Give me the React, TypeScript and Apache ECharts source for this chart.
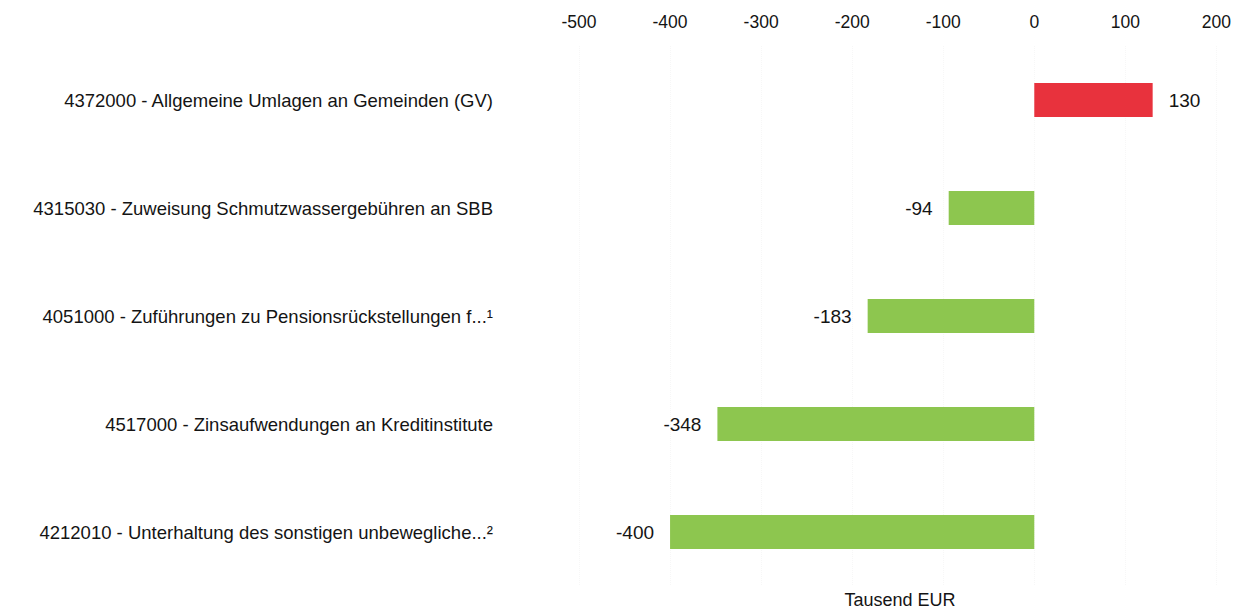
import React, { useEffect, useRef } from "react";
import * as echarts from "echarts";

const categories = [
  "4372000 - Allgemeine Umlagen an Gemeinden (GV)",
  "4315030 - Zuweisung Schmutzwassergebühren an SBB",
  "4051000 - Zuführungen zu Pensionsrückstellungen f...¹",
  "4517000 - Zinsaufwendungen an Kreditinstitute",
  "4212010 - Unterhaltung des sonstigen unbewegliche...²",
];
const values = [130, -94, -183, -348, -400];
const axisMin = -500;
const axisMax = 200;
const axisInterval = 100;
const axisName = "Tausend EUR";

const RED = "#e8323d";
const GREEN = "#8dc64f";
const FONT = "'Liberation Sans', Arial, Helvetica, sans-serif";
const TEXT = "#141414";

export default function App() {
  const ref = useRef<HTMLDivElement>(null);
  useEffect(() => {
    document.body.style.margin = "0";
    const chart = echarts.init(ref.current!, undefined, { renderer: "svg" });
    chart.setOption({
      animation: false,
      backgroundColor: "#ffffff",
      textStyle: { fontFamily: FONT },
      grid: { left: 579, right: 13, top: 46, bottom: 24, containLabel: false },
      xAxis: {
        type: "value",
        position: "top",
        min: axisMin,
        max: axisMax,
        interval: axisInterval,
        axisLine: { show: false },
        axisTick: { show: false },
        axisLabel: { fontSize: 17.5, color: TEXT, margin: 15, fontFamily: FONT },
        splitLine: { show: true, lineStyle: { color: "#f7f7f7", type: "dotted", width: 1 } },
      },
      yAxis: {
        type: "category",
        inverse: true,
        data: categories,
        axisLine: { show: false },
        axisTick: { show: false },
        axisLabel: { fontSize: 18.5, color: TEXT, margin: 86, fontFamily: FONT },
        splitLine: { show: false },
      },
      graphic: [
        {
          type: "text",
          x: 900,
          y: 600,
          style: {
            text: axisName,
            fontSize: 18,
            fill: TEXT,
            textAlign: "center",
            textVerticalAlign: "middle",
            fontFamily: FONT,
          },
        },
      ],
      series: [
        {
          type: "bar",
          barWidth: 34,
          data: values.map((v) => ({
            value: v,
            itemStyle: { color: v >= 0 ? RED : GREEN },
            label: { position: v >= 0 ? "right" : "left" },
          })),
          label: {
            show: true,
            distance: 16,
            fontSize: 19,
            color: TEXT,
            fontFamily: FONT,
          },
        },
      ],
    });
    return () => chart.dispose();
  }, []);
  return <div ref={ref} style={{ width: 1234, height: 610 }} />;
}
